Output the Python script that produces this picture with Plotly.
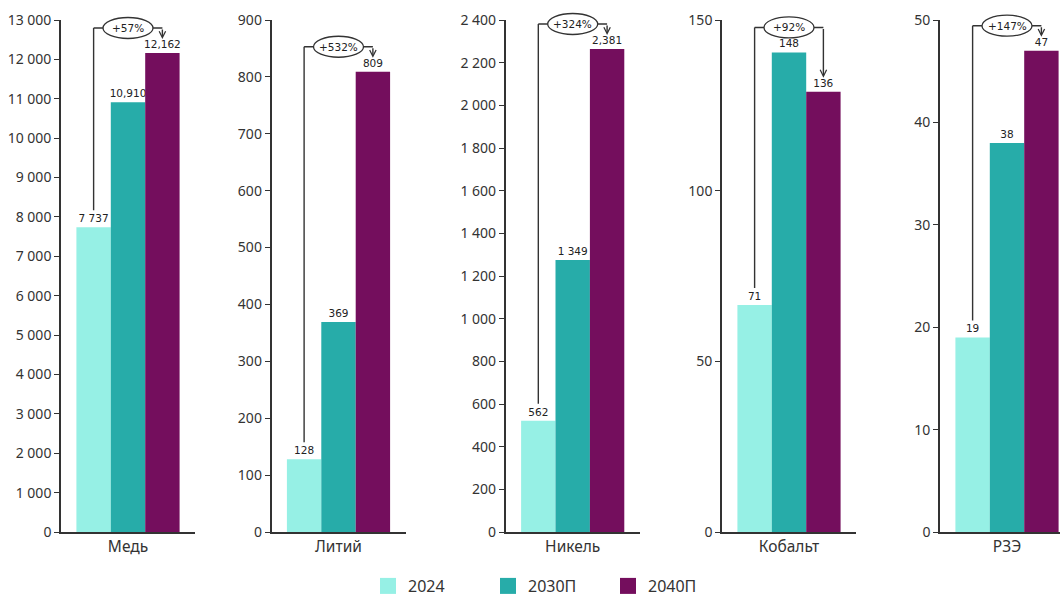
import plotly.graph_objects as go

categories = ["Медь", "Литий", "Никель", "Кобальт", "РЗЭ"]
years = ["2024", "2030П", "2040П"]
v2024 = [7737, 128, 522, 66.5, 19]
v2030 = [10910, 369, 1275, 140.5, 38]
v2040 = [12162, 809, 2264, 129, 47]
labels2024 = ["7 737", "128", "562", "71", "19"]
labels2030 = ["10,910", "369", "1 349", "148", "38"]
labels2040 = ["12,162", "809", "2,381", "136", "47"]
growth = ["+57%", "+532%", "+324%", "+92%", "+147%"]
ymax = [13000, 900, 2400, 150, 50]
dtick = [1000, 100, 200, 50, 10]

colors = ["#96F0E5", "#27ACA9", "#740E5D"]
W, H = 1062, 598
MT, MB = 20, 66
PH = H - MT - MB  # plot height in px
axis_px = [61, 271.5, 505.7, 722, 940]
AXW = 134  # px per category unit
BARGAP = 0.23
bw = (1 - BARGAP) / 3
xoff = [-bw, 0, bw]

TXT = "#333333"
LINE = "#333333"

fig = go.Figure()
series = [v2024, v2030, v2040]
labels = [labels2024, labels2030, labels2040]

for i, cat in enumerate(categories):
    xa = "x" if i == 0 else f"x{i+1}"
    ya = "y" if i == 0 else f"y{i+1}"
    for k in range(3):
        fig.add_trace(go.Bar(
            x=[cat], y=[series[k][i]], name=years[k],
            marker=dict(color=colors[k], line=dict(width=0)),
            text=[labels[k][i]], textposition="outside", cliponaxis=False,
            constraintext="none",
            textfont=dict(family="DejaVu Sans", size=10.5, color="#222222"),
            xaxis=xa, yaxis=ya, showlegend=False, hoverinfo="skip",
            offsetgroup=str(k),
        ))

# legend entries
for k in range(3):
    fig.add_trace(go.Scatter(
        x=[None], y=[None], mode="markers", name=years[k],
        marker=dict(symbol="square", size=16, color=colors[k]),
        xaxis="x", yaxis="y", showlegend=True,
    ))

layout = dict(
    width=W, height=H,
    margin=dict(l=0, r=0, t=MT, b=MB, autoexpand=False),
    plot_bgcolor="white", paper_bgcolor="white",
    barmode="group", bargap=BARGAP, bargroupgap=0,
    separators=", ",
    font=dict(family="Noto Sans", color=TXT),
    legend=dict(orientation="h", x=(388 - 20) / W, xanchor="left", y=(-(586 - (H - MB)) / PH),
                yanchor="middle", font=dict(size=16, family="Noto Sans", color=TXT),
                entrywidth=75, itemclick=False, tracegroupgap=0),
    shapes=[], annotations=[],
)

shapes = []
annos = []
for i in range(5):
    sfx = "" if i == 0 else str(i + 1)
    left = axis_px[i]
    right = min(left + AXW, 1060)
    dom = [left / W, right / W]
    rng = [-0.5, -0.5 + (right - left) / AXW]
    layout["xaxis" + sfx] = dict(
        domain=dom, range=rng, type="category", anchor="y" + sfx,
        showline=True, linecolor=LINE, linewidth=1.6, ticks="",
        tickfont=dict(size=15.5, family="Noto Sans", color=TXT), showgrid=False,
        fixedrange=True,
    )
    layout["yaxis" + sfx] = dict(
        domain=[0, 1], range=[0, ymax[i]], dtick=dtick[i], tick0=0,
        anchor="x" + sfx, showline=True, linecolor=LINE, linewidth=1.6,
        ticks="outside", ticklen=5, tickwidth=1.4, tickcolor=LINE,
        tickformat=",d", showgrid=False, zeroline=False,
        tickfont=dict(size=14, family="Noto Sans", color=TXT),
    )
    xr = "x" + sfx
    tops = [series[k][i] / ymax[i] for k in range(3)]
    top_max = max(tops)
    level = top_max + 25 / PH
    bottom = tops[0] + 17 / PH
    arrow_end = tops[2] + 14 / PH
    shapes.append(dict(type="line", xref=xr, yref="paper", x0=xoff[0], x1=xoff[0],
                       y0=bottom, y1=level, line=dict(color=LINE, width=1.4)))
    shapes.append(dict(type="line", xref=xr, yref="paper", x0=xoff[0], x1=xoff[2],
                       y0=level, y1=level, line=dict(color=LINE, width=1.4)))
    hw = 25 / AXW
    hh = 10.5 / PH
    shapes.append(dict(type="circle", xref=xr, yref="paper", x0=-hw, x1=hw,
                       y0=level - hh, y1=level + hh, fillcolor="white",
                       line=dict(color=LINE, width=1.3)))
    annos.append(dict(xref=xr, yref="paper", x=0, y=level, text=growth[i],
                      showarrow=False, font=dict(family="DejaVu Sans", size=10.5, color="#222222"),
                      xanchor="center", yanchor="middle"))
    annos.append(dict(xref=xr, yref="paper", x=xoff[2], y=arrow_end, text="",
                      showarrow=True, axref="pixel", ayref="pixel", ax=0,
                      ay=-(level - arrow_end) * PH, arrowhead=5, arrowsize=0.9,
                      arrowwidth=1.4, arrowcolor=LINE, standoff=0, startstandoff=0))

layout["shapes"] = shapes
layout["annotations"] = annos
fig.update_layout(**layout)
fig.write_html("out.html")
